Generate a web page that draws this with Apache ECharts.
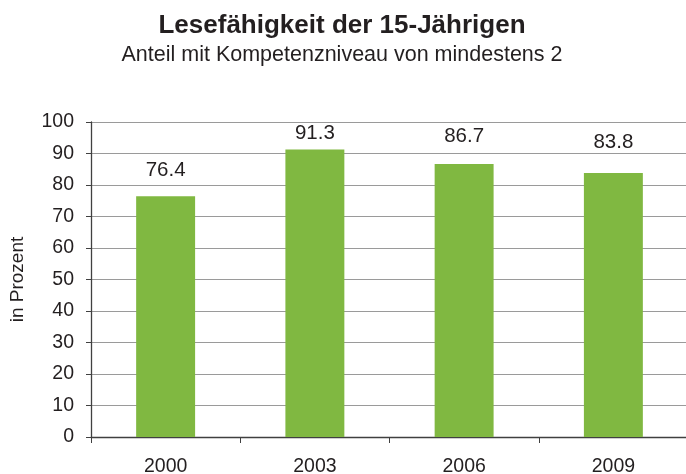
<!DOCTYPE html>
<html><head><meta charset="utf-8">
<script src="https://cdn.jsdelivr.net/npm/echarts@6/dist/echarts.min.js"></script>
<style>html,body{margin:0;padding:0;background:#fff}#c{width:686px;height:474px}</style>
</head><body><div id="c"></div>
<script>
const categories = ['2000', '2003', '2006', '2009'];
const values = [76.4, 91.3, 86.7, 83.8];
const titleText = 'Lesefähigkeit der 15-Jährigen';
const subtitleText = 'Anteil mit Kompetenzniveau von mindestens 2';
const yAxisName = 'in Prozent';
// label gaps above each bar (as placed in the original)
const labelDistances = [15.5, 5.5, 17.5, 20.5];

const chart = echarts.init(document.getElementById('c'), null, {renderer: 'canvas'});
chart.setOption({
  animation: false,
  backgroundColor: '#fff',
  title: {
    text: titleText,
    subtext: subtitleText,
    left: 337, textAlign: 'center', top: 8, itemGap: 5,
    textStyle: {fontFamily: 'Liberation Sans', fontWeight: 'bold', fontSize: 26, color: '#231f20'},
    subtextStyle: {fontFamily: 'Liberation Sans', fontSize: 21.5, color: '#231f20'}
  },
  grid: {left: 91, top: 122, bottom: 37, right: -2, containLabel: false, outerBoundsMode: 'none'},
  xAxis: {
    type: 'category', data: categories,
    axisLine: {lineStyle: {color: '#404040', width: 1.3}},
    axisTick: {show: true, length: 6, lineStyle: {color: '#404040'}},
    axisLabel: {fontFamily: 'Liberation Sans', fontSize: 19.5, color: '#231f20', margin: 20}
  },
  yAxis: {
    type: 'value', min: 0, max: 100, interval: 10,
    name: yAxisName, nameLocation: 'middle', nameGap: 64, nameRotate: 90,
    nameTextStyle: {fontFamily: 'Liberation Sans', fontSize: 19, color: '#231f20'},
    axisLine: {show: true, lineStyle: {color: '#404040', width: 1.3}},
    axisTick: {show: true, length: 5, lineStyle: {color: '#404040'}},
    axisLabel: {fontFamily: 'Liberation Sans', fontSize: 19.5, color: '#231f20', margin: 17},
    splitLine: {lineStyle: {color: '#9a9a9a', width: 1.2}}
  },
  series: [{
    type: 'bar',
    data: values.map((v, i) => ({value: v, label: {distance: labelDistances[i]}})),
    barWidth: '39.5%',
    itemStyle: {color: '#80b841'},
    label: {show: true, position: 'top', formatter: p => p.value.toFixed(1),
      fontFamily: 'Liberation Sans', fontSize: 20.5, color: '#231f20'}
  }]
});
</script></body></html>
